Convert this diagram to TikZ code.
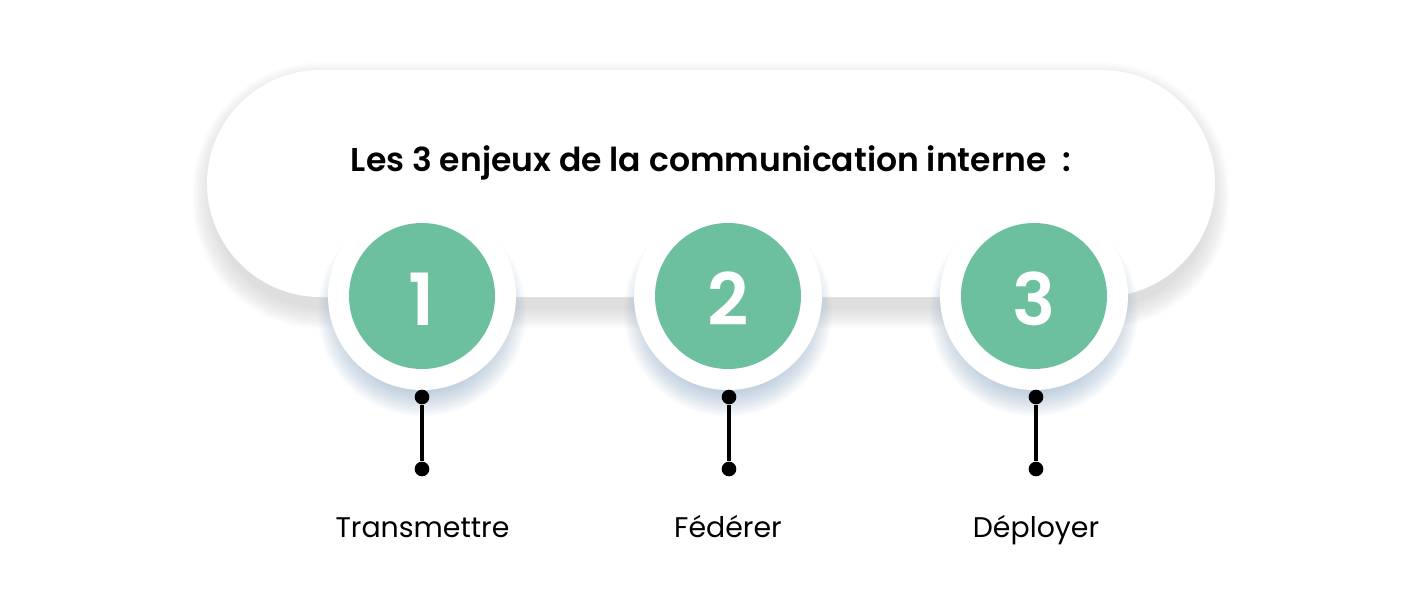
\documentclass[tikz,border=0pt]{standalone}
\usepackage{fontspec}
\setmainfont[BoldFont={Poppins SemiBold}]{Poppins}
\tikzset{
  pill/.style = {fill=white,rounded corners=85.1pt,minimum width=756pt,minimum height=170.25pt,inner sep=0pt},
  ring/.style = {circle,fill=white,minimum size=141pt,inner sep=0pt},
  badge/.style = {circle,fill=badgegreen,text=white,minimum size=109.5pt,inner sep=0pt,text height=43.5pt,text depth=0pt,font=\fontsize{54}{54}\selectfont\bfseries},
  dot/.style = {circle,fill=black,minimum size=11pt,inner sep=0pt},
  stem/.style = {line width=3pt,black},
  caption/.style = {font=\fontsize{21.3}{26}\selectfont,inner sep=0pt,anchor=base},
  heading/.style = {font=\fontsize{24.75}{30}\selectfont\bfseries,inner sep=0pt,anchor=base}
}
\definecolor{badgegreen}{HTML}{6CC09D}
\definecolor{pillshade}{HTML}{8A8A8A}
\definecolor{ringshade}{HTML}{7F9FBF}
\begin{document}
\begin{tikzpicture}[x=0.75pt,y=-0.75pt]
  \useasboundingbox (0,0) rectangle (1421,594);
  \fill[white] (0,0) rectangle (1421,594);

  % shadow of the big pill
  \foreach \s in {1,...,14}
    \fill[pillshade,opacity=0.02,rounded corners=85.1pt+\s*1.2pt-6pt] (215-\s*1.6,85-\s*1.6) rectangle (1207+\s*1.6,306+\s*1.6);
  \node[pill] (pill) at (711,183.5) {};
  \node[heading] (title) at (711,171) {Les 3 enjeux de la communication interne~~:};

  % shadows of the rings
  \foreach \cx in {422,728,1034}
    \foreach \s in {1,...,13}
      \fill[ringshade,opacity=0.045] (\cx,312) circle ({(78+\s*2)*0.75pt});

  % first step
  \node[ring] (ringa) at (422,296) {};
  \node[badge] (badgea) at (422,296) {1};
  \node[dot] (topa) at (422,397) {};
  \node[dot] (bota) at (422,469) {};
  \draw[stem] (topa) -- (bota);
  \node[caption] (capa) at (422.5,537) {Transmettre};

  % second step
  \node[ring] (ringb) at (728,296) {};
  \node[badge] (badgeb) at (728,296) {2};
  \node[dot] (topb) at (729,397) {};
  \node[dot] (botb) at (729,469) {};
  \draw[stem] (topb) -- (botb);
  \node[caption] (capb) at (728,537) {Fédérer};

  % third step
  \node[ring] (ringc) at (1034,296) {};
  \node[badge] (badgec) at (1034,296) {3};
  \node[dot] (topc) at (1036,397) {};
  \node[dot] (botc) at (1036,469) {};
  \draw[stem] (topc) -- (botc);
  \node[caption] (capc) at (1036,537) {Déployer};
\end{tikzpicture}
\end{document}
